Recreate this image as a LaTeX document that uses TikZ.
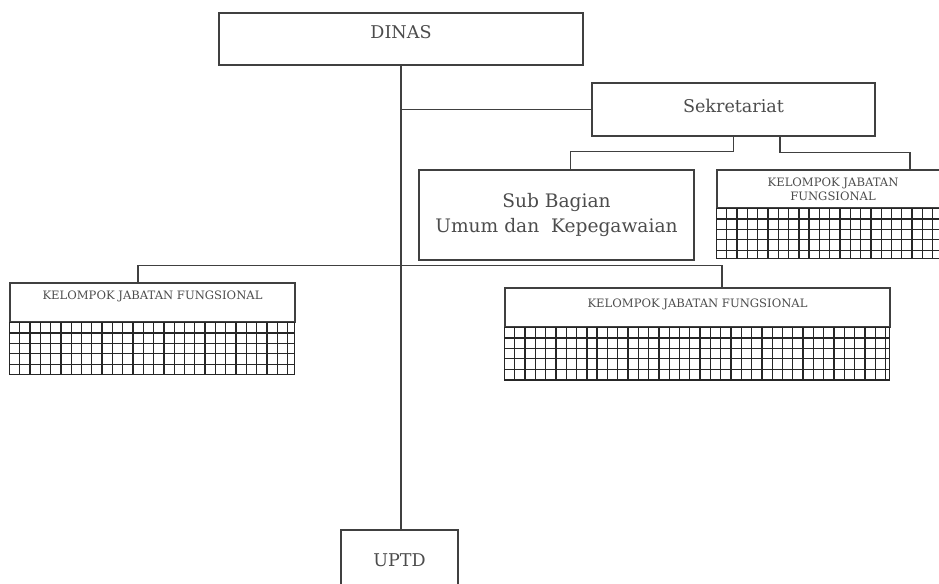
\documentclass[tikz,border=0pt]{standalone}
\usepackage{fontspec}
\setmainfont{DejaVu Serif}
\usepackage{tikz}
\usetikzlibrary{positioning,calc}

\begin{document}
\begin{tikzpicture}[x=0.02cm,y=-0.02cm,
  every node/.style={draw=black!75,line width=0.65pt,rectangle,text=black!70,inner sep=1pt},
  bigtxt/.style={font=\fontsize{10}{12}\selectfont},
  subtxt/.style={font=\fontsize{10.6}{14}\selectfont,align=center},
  kjftxt/.style={font=\fontsize{6.6}{8}\selectfont,align=center},
  hatch/.style={draw=black!85,line width=0.75pt,xstep=0.206cm,ystep=0.208cm},
  link/.style={draw=black!75,line width=0.8pt}]
\path[use as bounding box,clip] (0,0) rectangle (939,583);

\node (dinas) at (401,39) [bigtxt,text depth=0.28cm,minimum width=7.28cm,minimum height=1.04cm] {DINAS};
\node (sekre) at (733.5,109.5) [bigtxt,text depth=0.16cm,minimum width=5.66cm,minimum height=1.06cm] {Sekretariat};
\node (subbag) at (556.5,215) [subtxt,minimum width=5.5cm,minimum height=1.8cm] {Sub Bagian\\Umum dan\ \ Kepegawaian};
\node (kjfa) at (833,189) [kjftxt,minimum width=4.64cm,minimum height=0.76cm] {KELOMPOK JABATAN\\FUNGSIONAL};
\node (kjfb) at (152.5,302.5) [kjftxt,text depth=0.3cm,minimum width=5.7cm,minimum height=0.78cm] {KELOMPOK JABATAN FUNGSIONAL};
\node (kjfc) at (697.5,307.5) [kjftxt,text depth=0.18cm,minimum width=7.7cm,minimum height=0.78cm] {KELOMPOK JABATAN FUNGSIONAL};
\node (uptd) at (399.5,560) [bigtxt,minimum width=2.34cm,minimum height=1.2cm] {UPTD};

% grids under the jabatan fungsional boxes
\draw[hatch,shift={(kjfa.south west)}] (0,0) grid (232,50) (0,0) rectangle (232,50);
\draw[hatch,shift={(kjfb.south west)}] (0,0) grid (285,52) (0,0) rectangle (285,52);
\draw[hatch,shift={(kjfc.south west)}] (0,0) grid (385,53) (0,0) rectangle (385,53);

% lines
\draw[link] (dinas.south) -- (dinas.south |- uptd.north);
\draw[link] (dinas.south |- sekre.west) -- (sekre.west);
\draw[link] (sekre.south) -- ++(0,15) -| ([xshift=0.28cm]subbag.north);
\draw[link] ([xshift=0.93cm]sekre.south) -- ++(0,16) -| ([xshift=1.54cm]kjfa.north);
\draw[link] ([xshift=-0.29cm]kjfb.north) -- ++(0,-17) -| ([xshift=0.49cm]kjfc.north);
\end{tikzpicture}
\end{document}
